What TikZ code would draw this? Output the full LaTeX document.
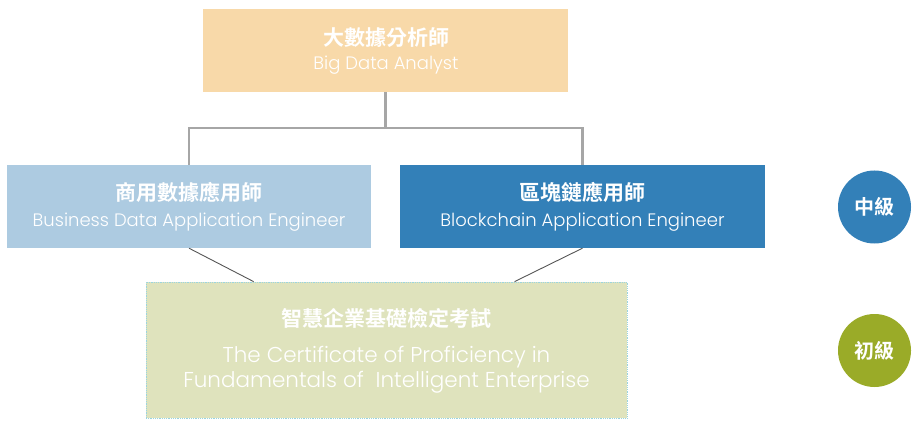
\documentclass[tikz,border=0pt]{standalone}
\usepackage{fontspec}
\setmainfont{Poppins}[UprightFont=* Light]
\newfontfamily\cjk{Noto Sans CJK TC}[BoldFont=* Bold]
\usetikzlibrary{calc}
\definecolor{topfill}{HTML}{F8D9A9}
\definecolor{leftfill}{HTML}{ADCBE1}
\definecolor{rightfill}{HTML}{3380B8}
\definecolor{botfill}{HTML}{DFE3BD}
\definecolor{botborder}{HTML}{9AD4E0}
\definecolor{circblue}{HTML}{3380B8}
\definecolor{circgreen}{HTML}{9AAB28}
\definecolor{connlight}{HTML}{A6A6A6}
\definecolor{conndark}{HTML}{555555}
\begin{document}
\begin{tikzpicture}[x=1pt,y=-1pt,
  box/.style={rectangle, inner sep=0pt, draw=none},
  zh/.style={anchor=base, inner sep=0pt, text=white, font=\cjk\bfseries\fontsize{21}{24}\selectfont},
  en/.style={anchor=base, inner sep=0pt, text=white, font=\fontsize{18}{22}\selectfont},
  enbig/.style={en, font=\fontsize{21.5}{25}\selectfont},
  lvl/.style={circle, inner sep=0pt, minimum size=73pt, text=white, font=\cjk\bfseries\fontsize{20}{22}\selectfont},
  tree/.style={draw=connlight, line width=2.4pt},
  link/.style={draw=conndark, line width=0.9pt}]
\useasboundingbox (0,0) rectangle (917,430);
% boxes
\node[box, fill=topfill, minimum width=365pt, minimum height=83pt] (top) at (385.5,50.5) {};
\node[box, fill=leftfill, minimum width=364pt, minimum height=83pt] (left) at (189,206.5) {};
\node[box, fill=rightfill, minimum width=365pt, minimum height=83pt] (right) at (582.5,206.5) {};
\node[box, fill=botfill, draw=botborder, densely dotted, line width=0.8pt, minimum width=481pt, minimum height=136pt] (bottom) at (386.5,350) {};
% texts
\node[zh] (topzh) at (386,46) {大數據分析師};
\node[en] (topen) at (386,70) {Big Data Analyst};
\node[zh] (leftzh) at (189,201) {商用數據應用師};
\node[en] (leften) at (189,226) {Business Data Application Engineer};
\node[zh] (rightzh) at (582.5,201) {區塊鏈應用師};
\node[en] (righten) at (582.5,226) {Blockchain Application Engineer};
\node[zh] (botzh) at (386.5,326) {智慧企業基礎檢定考試};
\node[enbig] (boten1) at (386.5,362) {The Certificate of Proficiency in};
\node[enbig] (boten2) at (386.5,387) {Fundamentals of \ Intelligent Enterprise};
% level circles
\node[lvl, fill=circblue] (mid) at (874.5,207) {中級};
\node[lvl, fill=circgreen] (basic) at (874.5,350.5) {初級};
% connectors
\coordinate (jn) at ($(top.south)+(0,36)$);
\draw[tree] (top.south) -- (jn);
\draw[tree] (left.north) |- (jn) -| (right.north);
\draw[link] (left.south) -- ($(bottom.north west)+(108,0)$);
\draw[link] (right.south) -- ($(bottom.north west)+(369,0)$);
\end{tikzpicture}
\end{document}
